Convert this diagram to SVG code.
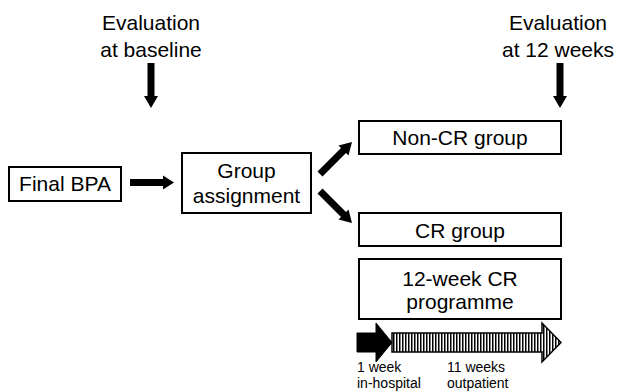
<svg xmlns="http://www.w3.org/2000/svg" width="619" height="392" viewBox="0 0 619 392">
<style>
.box{fill:#fff;stroke:#000;stroke-width:2}
.t{font-family:"Liberation Sans",Arial,sans-serif;font-size:21px;fill:#000;text-anchor:middle}
.s{font-family:"Liberation Sans",Arial,sans-serif;font-size:14px;fill:#000}
.conn{fill:#000;stroke:none}
</style>
<defs>
<pattern id="hatch" width="3" height="4" patternUnits="userSpaceOnUse">
<rect width="3" height="4" fill="#fff"/>
<rect width="1.5" height="4" fill="#000"/>
</pattern>
</defs>
<rect width="619" height="392" fill="#fff"/>
<g id="eval-baseline">
<text class="t" x="151" y="30">Evaluation</text>
<text class="t" x="151" y="57">at baseline</text>
</g>
<g id="eval-12weeks">
<text class="t" x="558" y="30">Evaluation</text>
<text class="t" x="558" y="57">at 12 weeks</text>
</g>
<g id="final-bpa">
<rect class="box" x="9" y="167" width="112" height="34"/>
<text class="t" x="65" y="191">Final BPA</text>
</g>
<g id="group-assignment">
<rect class="box" x="182" y="153" width="129" height="60"/>
<text class="t" x="246.5" y="178">Group</text>
<text class="t" x="246.5" y="203">assignment</text>
</g>
<g id="non-cr">
<rect class="box" x="359" y="121" width="202" height="33"/>
<text class="t" x="460" y="145">Non-CR group</text>
</g>
<g id="cr">
<rect class="box" x="359" y="213" width="202" height="33"/>
<text class="t" x="460" y="238">CR group</text>
</g>
<g id="programme">
<rect class="box" x="359" y="259" width="202" height="60"/>
<text class="t" x="460" y="286">12-week CR</text>
<text class="t" x="460" y="309">programme</text>
</g>
<g id="timeline">
<polygon points="357,333 376,333 376,323 392,342.5 376,362 376,352 357,352" fill="#000" stroke="#000" stroke-width="1"/>
<polygon points="392,333 542,333 542,323 561,342.5 542,362 542,352 392,352" fill="url(#hatch)" stroke="#000" stroke-width="1.5"/>
<text class="s" x="357" y="372">1 week</text>
<text class="s" x="357" y="388">in-hospital</text>
<text class="s" x="447" y="372">11 weeks</text>
<text class="s" x="447" y="388">outpatient</text>
</g>
<g id="connectors">
<polygon class="conn" points="147.5,63 154.5,63 154.5,96 158,96 151,108 144,96 147.5,96"/>
<polygon class="conn" points="556.5,63 563.5,63 563.5,96 567,96 560,108 553,96 556.5,96"/>
<polygon class="conn" points="130,179 163,179 163,175.5 174,182.5 163,189.5 163,186 130,186"/>
<polygon class="conn" points="317.5,171.5 341,148 338.5,145.5 352,142 348.5,155.5 346,153 322.5,176.5"/>
<polygon class="conn" points="317.5,193.5 341,217 338.5,219.5 352,223 348.5,209.5 346,212 322.5,188.5"/>
</g>
</svg>
